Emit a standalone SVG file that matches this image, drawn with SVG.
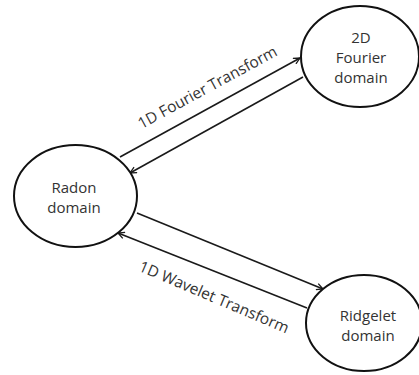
<svg xmlns="http://www.w3.org/2000/svg" width="419" height="375" viewBox="0 0 419 375">
  <style>
    .node ellipse { fill: #ffffff; stroke: #111111; stroke-width: 2; }
    .node text, .label { font-family: "Open Sans", "Noto Sans", sans-serif; font-size: 15px; fill: #333333; text-anchor: middle; }
    .label { font-size: 15.5px; }
    .edge { stroke: #1a1a1a; stroke-width: 1.6; fill: none; marker-end: url(#open-arrow); }
  </style>
  <defs>
    <marker id="open-arrow" viewBox="0 0 10 10" refX="9" refY="5" markerWidth="8" markerHeight="8" markerUnits="userSpaceOnUse" orient="auto">
      <polyline points="1,1 9,5 1,9" fill="none" stroke="#1a1a1a" stroke-width="1.6"/>
    </marker>
  </defs>
  <rect width="419" height="375" fill="#ffffff"/>

  <!-- connectors -->
  <g id="connectors">
    <line class="edge" x1="120" y1="157" x2="300" y2="58"/>
    <line class="edge" x1="303" y1="77" x2="130" y2="173"/>
    <line class="edge" x1="137" y1="213" x2="323" y2="289"/>
    <line class="edge" x1="307" y1="308" x2="118" y2="233"/>
    <text class="label" x="210" y="92" transform="rotate(-28.5 210 92)">1D Fourier Transform</text>
    <text class="label" x="212" y="302" transform="rotate(23 212 302)">1D Wavelet Transform</text>
  </g>

  <!-- nodes -->
  <g id="radon" class="node">
    <ellipse cx="75.5" cy="196" rx="61.5" ry="51"/>
    <text x="74" y="193">Radon</text>
    <text x="74" y="213">domain</text>
  </g>
  <g id="fourier2d" class="node">
    <ellipse cx="360" cy="56.5" rx="59" ry="50.5"/>
    <text x="361" y="43">2D</text>
    <text x="361" y="63">Fourier</text>
    <text x="361" y="83">domain</text>
  </g>
  <g id="ridgelet" class="node">
    <ellipse cx="364" cy="323" rx="58" ry="48"/>
    <text x="368" y="321">Ridgelet</text>
    <text x="368" y="341">domain</text>
  </g>
</svg>
